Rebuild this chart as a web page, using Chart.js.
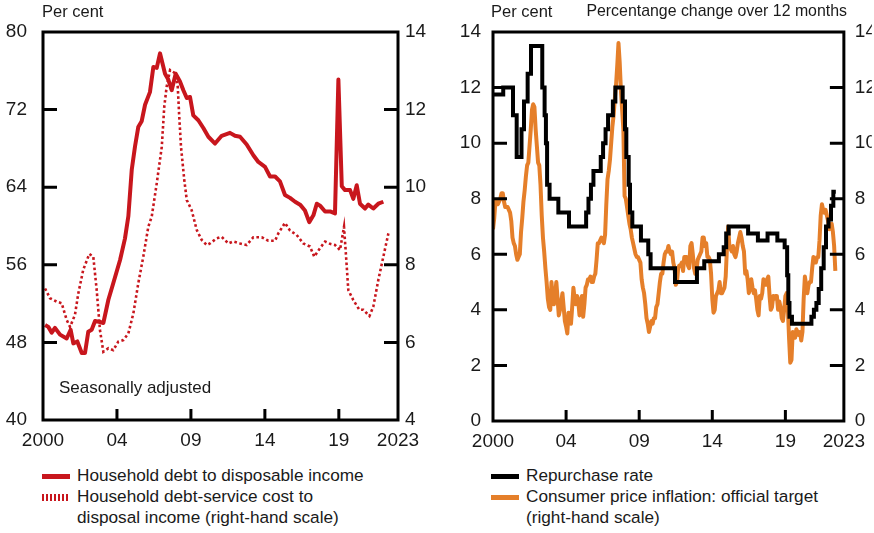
<!DOCTYPE html>
<html>
<head>
<meta charset="utf-8">
<script src="https://cdn.jsdelivr.net/npm/chart.js@4"></script>
<style>
  body { margin: 0; background: #fff; }
  #wrap { position: relative; width: 874px; height: 533px; overflow: hidden; font-family: 'Liberation Sans', Arial, sans-serif; color: #1a1a1a; }
  canvas { position: absolute; top: 0; }
  .t { position: absolute; font-size: 16.5px; line-height: 16.5px; white-space: nowrap; }
  .leg { position: absolute; top: 465px; font-size: 17.2px; line-height: 21px; white-space: nowrap; }
  .row { position: relative; padding-left: 35px; }
  .sw { position: absolute; left: 0; width: 28px; }
</style>
</head>
<body>
<div id="wrap">
  <canvas id="left" width="440" height="460" style="left:0"></canvas>
  <canvas id="right" width="434" height="460" style="left:440px"></canvas>
  <div class="t" style="left:42px;top:3px">Per cent</div>
  <div class="t" style="left:491px;top:3px">Per cent</div>
  <div class="t" style="right:27px;top:3px;font-size:15.9px">Percentange change over 12 months</div>
  <div class="t" style="left:59px;top:379px;font-size:17px;line-height:17px">Seasonally adjusted</div>
  <div class="leg" style="left:42px">
    <div class="row"><span class="sw" style="top:9px;height:5px;background:#c8161d"></span>Household debt to disposable income</div>
    <div class="row"><span class="sw" style="top:8px;height:7px;background:repeating-linear-gradient(90deg,#c8161d 0 2px,transparent 2px 4px)"></span>Household debt-service cost to<br>disposal income (right-hand scale)</div>
  </div>
  <div class="leg" style="left:491px">
    <div class="row"><span class="sw" style="top:9px;height:5px;background:#000"></span>Repurchase rate</div>
    <div class="row"><span class="sw" style="top:9px;height:5px;background:#e57f2a"></span>Consumer price inflation: official target<br>(right-hand scale)</div>
  </div>
</div>
<script>
// x axis (years), ticks at ends of 2004, 2009, 2014, 2019
const xTickValues = [2000, 2005, 2010, 2015, 2020, 2024];
const xTickLabels = ["2000", "04", "09", "14", "19", "2023"];

// household debt to disposable income, per cent
const debtDates = [2000.14, 2000.36, 2000.59, 2000.81, 2001.15, 2001.6, 2001.87, 2002.05, 2002.32, 2002.62, 2002.84, 2003.06, 2003.29, 2003.52, 2003.85, 2004.08, 2004.42, 2004.75, 2005.21, 2005.54, 2005.77, 2006.0, 2006.22, 2006.44, 2006.67, 2006.9, 2007.23, 2007.46, 2007.69, 2007.91, 2008.25, 2008.47, 2008.7, 2008.97, 2009.26, 2009.49, 2009.72, 2009.94, 2010.16, 2010.5, 2010.84, 2011.18, 2011.63, 2012.08, 2012.64, 2012.98, 2013.32, 2013.77, 2014.22, 2014.56, 2015.01, 2015.35, 2015.69, 2016.02, 2016.36, 2016.7, 2017.04, 2017.38, 2017.71, 2018.0, 2018.28, 2018.51, 2018.73, 2019.07, 2019.41, 2019.74, 2019.97, 2020.2, 2020.42, 2020.76, 2020.98, 2021.21, 2021.43, 2021.77, 2021.99, 2022.33, 2022.67, 2023.01];
const debtValues = [49.8, 49.6, 49.0, 49.5, 48.8, 48.4, 49.3, 47.9, 48.1, 46.9, 46.9, 49.1, 49.3, 50.2, 50.1, 50.0, 52.4, 54.1, 56.5, 58.7, 61.0, 65.8, 68.2, 70.2, 70.8, 72.5, 73.8, 76.4, 76.3, 77.8, 75.7, 75.1, 74.0, 75.7, 74.9, 74.0, 73.2, 73.3, 71.4, 70.9, 70.1, 69.2, 68.5, 69.3, 69.6, 69.3, 69.2, 68.4, 67.3, 66.6, 66.1, 65.1, 65.1, 64.6, 63.2, 62.9, 62.5, 62.2, 61.6, 60.4, 61.1, 62.3, 62.1, 61.5, 61.5, 61.3, 75.1, 64.1, 63.7, 63.7, 62.8, 64.2, 62.3, 61.8, 62.2, 61.8, 62.3, 62.5];

// household debt-service cost to disposable income, per cent (right-hand scale)
const serviceDates = [2000.14, 2000.47, 2000.93, 2001.26, 2001.6, 2001.83, 2002.16, 2002.39, 2002.72, 2003.13, 2003.4, 2003.63, 2003.85, 2004.08, 2004.42, 2004.75, 2005.09, 2005.43, 2005.77, 2006.11, 2006.44, 2006.78, 2007.12, 2007.35, 2007.69, 2008.03, 2008.2, 2008.36, 2008.59, 2008.93, 2009.11, 2009.2, 2009.33, 2009.55, 2009.72, 2010.05, 2010.39, 2010.73, 2011.07, 2011.29, 2011.74, 2012.08, 2012.53, 2012.87, 2013.32, 2013.77, 2014.22, 2014.79, 2015.23, 2015.69, 2015.91, 2016.36, 2016.7, 2017.15, 2017.6, 2018.05, 2018.34, 2018.73, 2019.07, 2019.41, 2019.74, 2020.08, 2020.35, 2020.49, 2020.64, 2020.98, 2021.39, 2021.66, 2022.07, 2022.33, 2022.67, 2023.01, 2023.35];
const serviceValues = [7.39, 7.14, 7.05, 7.01, 6.58, 6.40, 6.71, 7.27, 7.87, 8.28, 8.21, 7.35, 6.32, 5.76, 5.85, 5.80, 6.02, 6.06, 6.23, 6.75, 7.52, 8.21, 8.98, 9.24, 10.10, 11.04, 12.08, 12.59, 13.02, 12.94, 12.59, 11.9, 11.04, 10.19, 9.67, 9.41, 8.90, 8.64, 8.51, 8.55, 8.68, 8.72, 8.55, 8.60, 8.55, 8.51, 8.71, 8.71, 8.62, 8.62, 8.81, 9.08, 8.88, 8.77, 8.55, 8.47, 8.21, 8.43, 8.60, 8.54, 8.51, 8.38, 8.98, 8.21, 7.35, 7.09, 6.84, 6.84, 6.68, 6.92, 7.61, 8.21, 8.81];

// repurchase rate, per cent: dates of each change and the new rate
const repoDates = [2000.0, 2000.7, 2001.37, 2001.62, 2001.95, 2002.12, 2002.37, 2002.6, 2003.37, 2003.53, 2003.62, 2003.7, 2003.87, 2004.47, 2005.2, 2006.37, 2006.53, 2006.7, 2006.87, 2007.37, 2007.53, 2007.7, 2007.87, 2008.2, 2008.37, 2008.87, 2009.03, 2009.12, 2009.28, 2009.37, 2009.53, 2010.12, 2010.62, 2010.78, 2012.45, 2013.95, 2014.45, 2015.45, 2015.78, 2015.95, 2016.12, 2017.45, 2018.12, 2018.78, 2019.45, 2019.95, 2020.12, 2020.2, 2020.28, 2020.45, 2021.78, 2021.95, 2022.12, 2022.28, 2022.45, 2022.62, 2022.78, 2022.95, 2023.12, 2023.28, 2023.45];
const repoRates = [11.75, 12, 11, 9.5, 10.5, 11.5, 12.5, 13.5, 12, 11, 10, 8.5, 8, 7.5, 7, 7.5, 8, 8.5, 9, 9.5, 10, 10.5, 11, 11.5, 12, 11.5, 10.5, 9.5, 8.5, 7.5, 7, 6.5, 6, 5.5, 5, 5.5, 5.75, 6, 6.25, 6.75, 7, 6.75, 6.5, 6.75, 6.5, 6.25, 5.25, 4.25, 3.75, 3.5, 3.75, 4, 4.25, 4.75, 5.5, 6.25, 7, 7.25, 7.75, 8.25, 8.25];

// consumer price inflation (official target measure), monthly from January 2000
const cpiStart = 2000;
const cpiValues = [
  6.9, 7.3, 7.9, 7.9, 7.8, 7.9, 8.0, 8.2, 8.2, 7.9, 7.7, 7.7,
  7.7, 7.6, 7.5, 7.2, 6.6, 6.4, 6.3, 6.0, 5.8, 5.9, 6.0, 6.8,
  7.3, 7.9, 8.3, 8.8, 9.2, 9.3, 9.9, 10.5, 11.2, 11.4, 11.3, 10.5,
  9.9, 9.3, 9.2, 8.5, 7.4, 6.6, 6.1, 5.5, 5.0, 4.4, 4.1, 4.0,
  5.0, 4.4, 4.2, 4.6, 5.0, 4.4, 3.8, 4.0, 4.3, 4.6, 4.1, 3.6,
  3.4, 3.15, 3.9, 3.8, 3.5, 4.1, 4.8, 4.4, 4.2, 4.5, 4.3, 3.8,
  4.3, 4.5, 3.75, 4.2, 4.8, 4.9, 5.1, 5.1, 5.2, 5.0, 5.0, 5.2,
  5.3, 5.8, 6.4, 6.4, 6.5, 6.6, 6.5, 6.4, 6.7, 7.8, 8.7, 9.0,
  9.4, 10.0, 10.6, 11.0, 11.6, 12.1, 12.8, 13.6, 12.9, 11.9, 11.2, 10.5,
  8.1, 8.0, 7.7, 7.4, 7.1, 6.9, 6.6, 6.4, 6.2, 6.0, 5.9, 5.9,
  5.8, 5.7, 5.1, 4.8, 4.6, 4.2, 3.7, 3.5, 3.2, 3.4, 3.6, 3.5,
  3.7, 3.7, 4.1, 4.2, 4.6, 5.0, 5.3, 5.3, 5.7, 6.0, 6.1, 6.1,
  6.3, 6.1, 6.0, 6.1, 5.7, 5.5, 4.9, 5.0, 5.5, 5.6, 5.6, 5.7,
  5.4, 5.9, 5.9, 5.9, 5.6, 5.5, 6.3, 6.4, 6.0, 5.5, 5.3, 5.4,
  5.8, 5.9, 6.0, 6.1, 6.6, 6.6, 6.3, 6.4, 5.9, 5.9, 5.8, 5.3,
  4.4, 3.9, 4.0, 4.5, 4.6, 4.7, 5.0, 4.6, 4.6, 4.7, 4.8, 5.2,
  6.2, 7.0, 6.3, 6.2, 6.1, 6.3, 6.0, 5.9, 6.1, 6.4, 6.6, 6.8,
  6.6, 6.3, 6.1, 5.3, 5.4, 5.1, 4.6, 4.8, 5.1, 4.8, 4.6, 4.7,
  4.4, 4.0, 3.8, 4.5, 4.4, 4.6, 5.1, 4.9, 4.9, 5.1, 5.2, 4.5,
  4.0, 4.1, 4.5, 4.4, 4.5, 4.5, 4.0, 4.3, 4.1, 3.7, 3.6, 4.0,
  4.5, 4.6, 4.1, 3.0, 2.1, 2.2, 3.2, 3.1, 3.0, 3.3, 3.2, 3.1,
  3.2, 2.9, 3.2, 4.4, 5.2, 4.9, 4.6, 4.9, 5.0, 5.0, 5.5, 5.9,
  5.7, 5.7, 5.9, 5.9, 6.5, 7.4, 7.8, 7.6, 7.5, 7.6, 7.4, 7.2,
  6.9, 7.0, 7.1, 6.8, 6.3, 5.4
];

const RED = "#c8161d";
const ORANGE = "#e57f2a";

Chart.defaults.font.family = "'Liberation Sans', Arial, sans-serif";
Chart.defaults.font.size = 19;
Chart.defaults.color = "#1a1a1a";

const pairs = (xs, ys) => xs.map((x, i) => ({ x: x, y: ys[i] }));

// box round the plot plus short tick marks pointing inwards
const frame = {
  id: "frame",
  afterDatasetsDraw(chart) {
    const { ctx, chartArea: a, scales } = chart;
    ctx.save();
    ctx.strokeStyle = "#000";
    ctx.lineWidth = 3;
    ctx.beginPath();
    scales.x.ticks.forEach((t) => {
      if (t.value <= scales.x.min || t.value >= scales.x.max) return;
      const px = scales.x.getPixelForValue(t.value);
      ctx.moveTo(px, a.bottom);
      ctx.lineTo(px, a.bottom - 11);
    });
    scales.y.ticks.forEach((t) => {
      if (t.value <= scales.y.min || t.value >= scales.y.max) return;
      const py = scales.y.getPixelForValue(t.value);
      ctx.moveTo(a.left, py);
      ctx.lineTo(a.left + 14, py);
    });
    scales.y1.ticks.forEach((t) => {
      if (t.value <= scales.y1.min || t.value >= scales.y1.max) return;
      const py = scales.y1.getPixelForValue(t.value);
      ctx.moveTo(a.right, py);
      ctx.lineTo(a.right - 14, py);
    });
    ctx.stroke();
    ctx.strokeRect(a.left, a.top, a.right - a.left, a.bottom - a.top);
    ctx.restore();
  }
};

function makeScales(o) {
  return {
    x: {
      type: "linear",
      min: 2000,
      max: 2024,
      afterBuildTicks: (s) => { s.ticks = xTickValues.map((v) => ({ value: v })); },
      afterFit: (s) => { s.height = o.xHeight; },
      grid: { display: false, drawTicks: false },
      border: { display: false },
      ticks: {
        autoSkip: false,
        maxRotation: 0,
        padding: 9,
        callback: (v) => xTickLabels[xTickValues.indexOf(v)]
      }
    },
    y: {
      position: "left",
      min: o.yMin, max: o.yMax,
      afterFit: (s) => { s.width = o.leftWidth; },
      grid: { display: false, drawTicks: false },
      border: { display: false },
      ticks: { stepSize: o.yStep, padding: o.leftPad }
    },
    y1: {
      position: "right",
      min: o.y1Min, max: o.y1Max,
      afterFit: (s) => { s.width = o.rightWidth; },
      grid: { display: false, drawTicks: false },
      border: { display: false },
      ticks: { stepSize: o.y1Step, padding: o.rightPad }
    }
  };
}

new Chart(document.getElementById("left"), {
  type: "line",
  data: {
    datasets: [
      {
        label: "Household debt to disposable income",
        data: pairs(debtDates, debtValues),
        yAxisID: "y",
        borderColor: RED,
        borderWidth: 4,
        borderJoinStyle: "round",
        pointRadius: 0
      },
      {
        label: "Household debt-service cost to disposal income (right-hand scale)",
        data: pairs(serviceDates, serviceValues),
        yAxisID: "y1",
        borderColor: RED,
        borderWidth: 2.6,
        borderDash: [2.6, 2.6],
        pointRadius: 0
      }
    ]
  },
  options: {
    responsive: false,
    animation: false,
    layout: { padding: { top: 32, left: 0, right: 0, bottom: 0 } },
    plugins: { legend: { display: false }, tooltip: { enabled: false } },
    scales: makeScales({
      xHeight: 40, yMin: 40, yMax: 80, yStep: 8, y1Min: 4, y1Max: 14, y1Step: 2,
      leftWidth: 43, rightWidth: 42, leftPad: 16, rightPad: 7
    })
  },
  plugins: [frame]
});

new Chart(document.getElementById("right"), {
  type: "line",
  data: {
    datasets: [
      {
        label: "Repurchase rate",
        data: pairs(repoDates, repoRates),
        yAxisID: "y",
        stepped: true,
        borderColor: "#000",
        borderWidth: 4,
        pointRadius: 0
      },
      {
        label: "Consumer price inflation: official target (right-hand scale)",
        data: cpiValues.map((v, i) => ({ x: cpiStart + i / 12, y: v })),
        yAxisID: "y1",
        borderColor: ORANGE,
        borderWidth: 4,
        borderJoinStyle: "round",
        pointRadius: 0
      }
    ]
  },
  options: {
    responsive: false,
    animation: false,
    layout: { padding: { top: 32, left: 0, right: 0, bottom: 0 } },
    plugins: { legend: { display: false }, tooltip: { enabled: false } },
    scales: makeScales({
      xHeight: 39, yMin: 0, yMax: 14, yStep: 2, y1Min: 0, y1Max: 14, y1Step: 2,
      leftWidth: 53, rightWidth: 28, leftPad: 12, rightPad: 11
    })
  },
  plugins: [frame]
});
</script>
</body>
</html>
